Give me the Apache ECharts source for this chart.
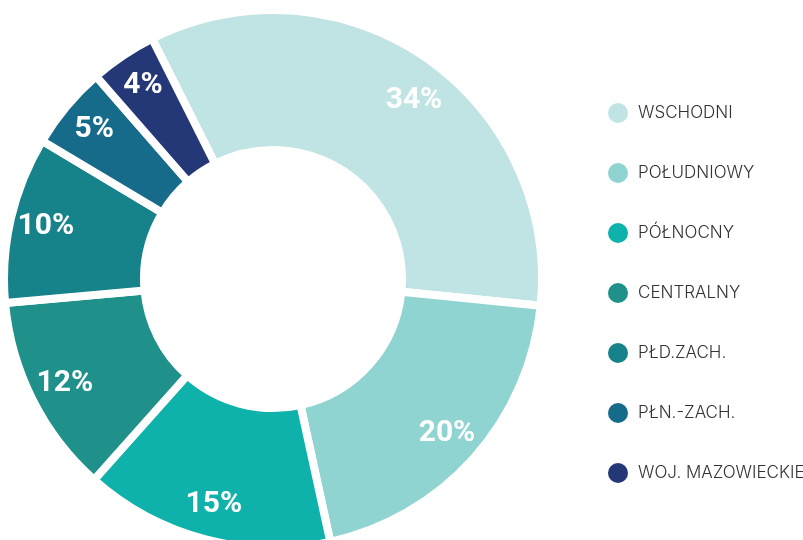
<!DOCTYPE html>
<html>
<head>
<meta charset="utf-8">
<script src="https://cdn.jsdelivr.net/npm/echarts@6/dist/echarts.min.js"></script>
<style>
html,body{margin:0;padding:0;background:#fff;}
#c{width:803px;height:540px;}
</style>
</head>
<body>
<div id="c"></div>
<script>
const categories = ['WSCHODNI', 'POŁUDNIOWY', 'PÓŁNOCNY', 'CENTRALNY', 'PŁD.ZACH.', 'PŁN.-ZACH.', 'WOJ. MAZOWIECKIE'];
const values = [34, 20, 15, 12, 10, 5, 4];
const colors = ['#c0e4e4', '#90d4d2', '#0fb2aa', '#20908a', '#16828a', '#176b8a', '#243776'];

const chart = echarts.init(document.getElementById('c'), null, {renderer: 'canvas'});
const data = categories.map((n, i) => ({name: n, value: values[i], itemStyle: {color: colors[i]}}));
const labelData = categories.map((n, i) => {
  const d = {name: n, value: values[i]};
  if (i === 0) d.label = {offset: [9, 14]};
  return d;
});

chart.setOption({
  animation: false,
  backgroundColor: '#ffffff',
  legend: {
    data: categories,
    orient: 'vertical',
    left: 601,
    top: 96,
    icon: 'circle',
    itemWidth: 22,
    itemHeight: 22,
    itemGap: 36,
    selectedMode: false,
    textStyle: {
      fontFamily: 'Inter',
      fontSize: 17,
      fontWeight: 300,
      color: '#333333',
      padding: [0, 0, 0, 4]
    }
  },
  series: [
    {
      type: 'pie',
      center: [273, 279],
      radius: [129, 269],
      startAngle: 116.7,
      clockwise: true,
      silent: true,
      itemStyle: {borderColor: '#ffffff', borderWidth: 8},
      label: {show: false},
      labelLine: {show: false},
      data: data
    },
    {
      type: 'pie',
      center: [273, 279],
      radius: [195, 265],
      startAngle: 116.7,
      clockwise: true,
      silent: true,
      itemStyle: {color: 'rgba(0,0,0,0)', borderWidth: 0},
      label: {
        show: true,
        position: 'inside',
        formatter: '{c}%',
        color: '#ffffff',
        fontFamily: 'Roboto',
        fontWeight: 'bold',
        fontSize: 30
      },
      labelLine: {show: false},
      data: labelData
    }
  ]
});
</script>
</body>
</html>
